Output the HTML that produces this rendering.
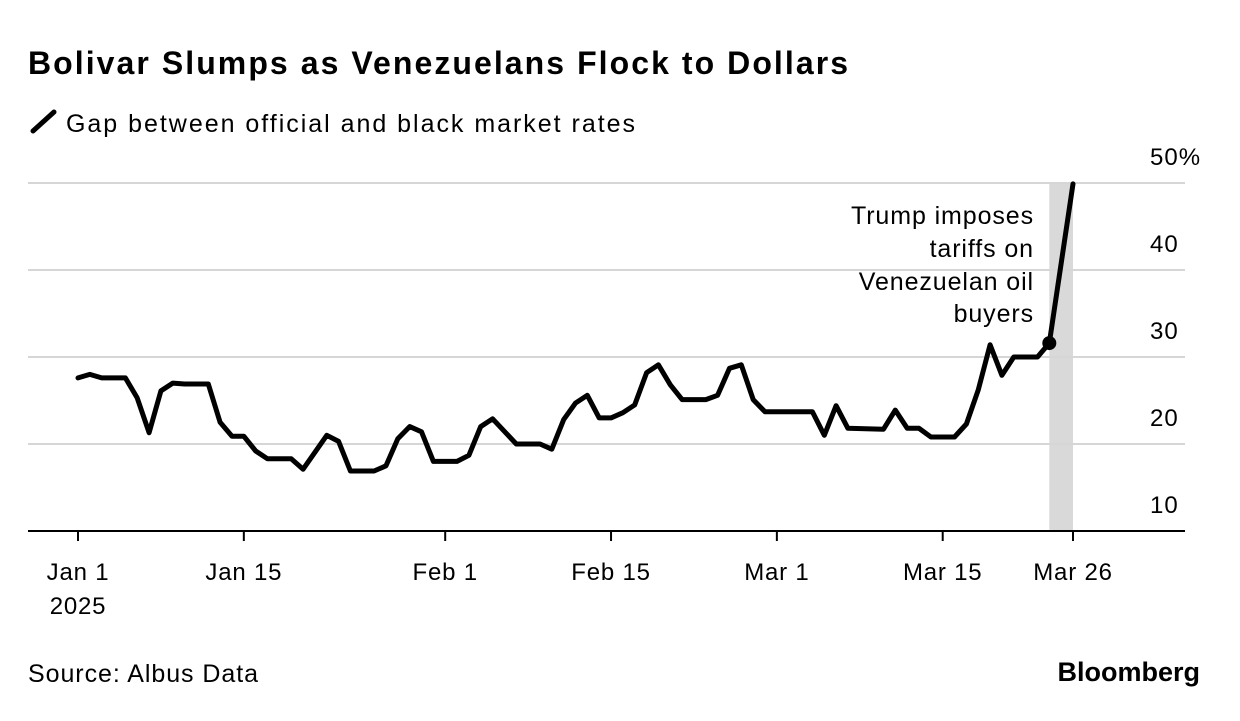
<!DOCTYPE html>
<html><head><meta charset="utf-8"><style>
body{margin:0;background:#fff;width:1240px;height:716px;overflow:hidden;font-family:"Liberation Sans",sans-serif;}
</style></head><body>
<svg width="1240" height="716" font-family="Liberation Sans, sans-serif">
<text x="28" y="74" font-size="32" font-weight="bold" fill="#000" textLength="820" lengthAdjust="spacing">Bolivar Slumps as Venezuelans Flock to Dollars</text>
<line x1="33" y1="131" x2="54" y2="112" stroke="#000" stroke-width="5" stroke-linecap="round"/>
<text x="66" y="132" font-size="25" fill="#000" textLength="569" lengthAdjust="spacing">Gap between official and black market rates</text>
<g id="grid"></g>
<g id="xaxis"></g>
<g id="plot"></g>
<text font-size="25" text-anchor="end" letter-spacing="0.9"><tspan x="1034" y="224">Trump imposes</tspan><tspan x="1034" y="257">tariffs on</tspan><tspan x="1034" y="290">Venezuelan oil</tspan><tspan x="1034" y="322">buyers</tspan></text>
<text x="28" y="682" font-size="25" textLength="230" lengthAdjust="spacing">Source: Albus Data</text>
<text x="1200" y="681" font-size="27" font-weight="bold" text-anchor="end">Bloomberg</text>
</svg>
<script>
const days=[0,1,2,4,5,6,7,8,9,11,12,13,14,15,16,18,19,21,22,23,25,26,27,28,29,30,32,33,34,35,37,39,40,41,42,43,44,45,46,47,48,49,50,51,53,54,55,56,57,58,62,63,64,65,68,69,70,71,72,74,75,76,77,78,79,81,82,84];
const values=[27.6,28.0,27.6,27.6,25.3,21.3,26.1,27.0,26.9,26.9,22.5,20.9,20.9,19.2,18.3,18.3,17.1,21.0,20.3,16.9,16.9,17.5,20.6,22.0,21.4,18.0,18.0,18.7,22.0,22.9,20.0,20.0,19.4,22.8,24.7,25.6,23.0,23.0,23.6,24.5,28.2,29.1,26.8,25.1,25.1,25.6,28.7,29.1,25.1,23.7,23.7,21.0,24.4,21.8,21.7,23.9,21.8,21.8,20.8,20.8,22.3,26.2,31.4,27.9,30.0,30.0,31.6,49.9];
const yTicks=[10,20,30,40,50];
const xTickDays=[0,14,31,45,59,73,84];
const xTickLabels=["Jan 1","Jan 15","Feb 1","Feb 15","Mar 1","Mar 15","Mar 26"];
const eventDay=82;
const NS="http://www.w3.org/2000/svg";
const X=d=>78+d*(995/84);
const Y=v=>531-(v-10)*8.7;
function mk(tag,attrs,parent,text){const e=document.createElementNS(NS,tag);for(const k in attrs)e.setAttribute(k,attrs[k]);if(text!==undefined)e.textContent=text;parent.appendChild(e);return e;}
const grid=document.getElementById('grid'),xa=document.getElementById('xaxis'),plot=document.getElementById('plot');
const sh=mk('rect',{x:X(eventDay),y:Y(50),width:X(84)-X(eventDay),height:Y(10)-Y(50),fill:'#d9d9d9'},grid);


yTicks.forEach(t=>{
 if(t>10){const l=mk('line',{x1:28,x2:1185,y1:Y(t),y2:Y(t),stroke:'#d6d6d6','stroke-width':2},grid);
 
 }
 const tx=mk('text',{x:1150,y:Y(t)-18,'font-size':24,'letter-spacing':1},grid,t===50?'50%':String(t));
 
 
});
const base=mk('line',{x1:28,x2:1185,y1:Y(10),y2:Y(10),stroke:'#000','stroke-width':2},xa);


xTickDays.forEach((d,i)=>{
 const t=mk('line',{x1:X(d),x2:X(d),y1:Y(10),y2:Y(10)+10,stroke:'#000','stroke-width':2},xa);
 
 
 const tx=mk('text',{x:X(d),y:580,'font-size':24,'text-anchor':'middle','letter-spacing':0.8},xa,xTickLabels[i]);
 
 
});
const yr=mk('text',{x:X(0),y:614,'font-size':24,'text-anchor':'middle','letter-spacing':0.8},xa,'2025');


const pts=days.map((d,i)=>X(d).toFixed(1)+','+Y(values[i]).toFixed(1)).join(' ');
const line=mk('polyline',{points:pts,fill:'none',stroke:'#000','stroke-width':5,'stroke-linejoin':'round','stroke-linecap':'round'},plot);


const ei=days.indexOf(eventDay);
const dot=mk('circle',{cx:X(eventDay),cy:Y(values[ei]),r:7,fill:'#000'},plot);


</script>
</body></html>
